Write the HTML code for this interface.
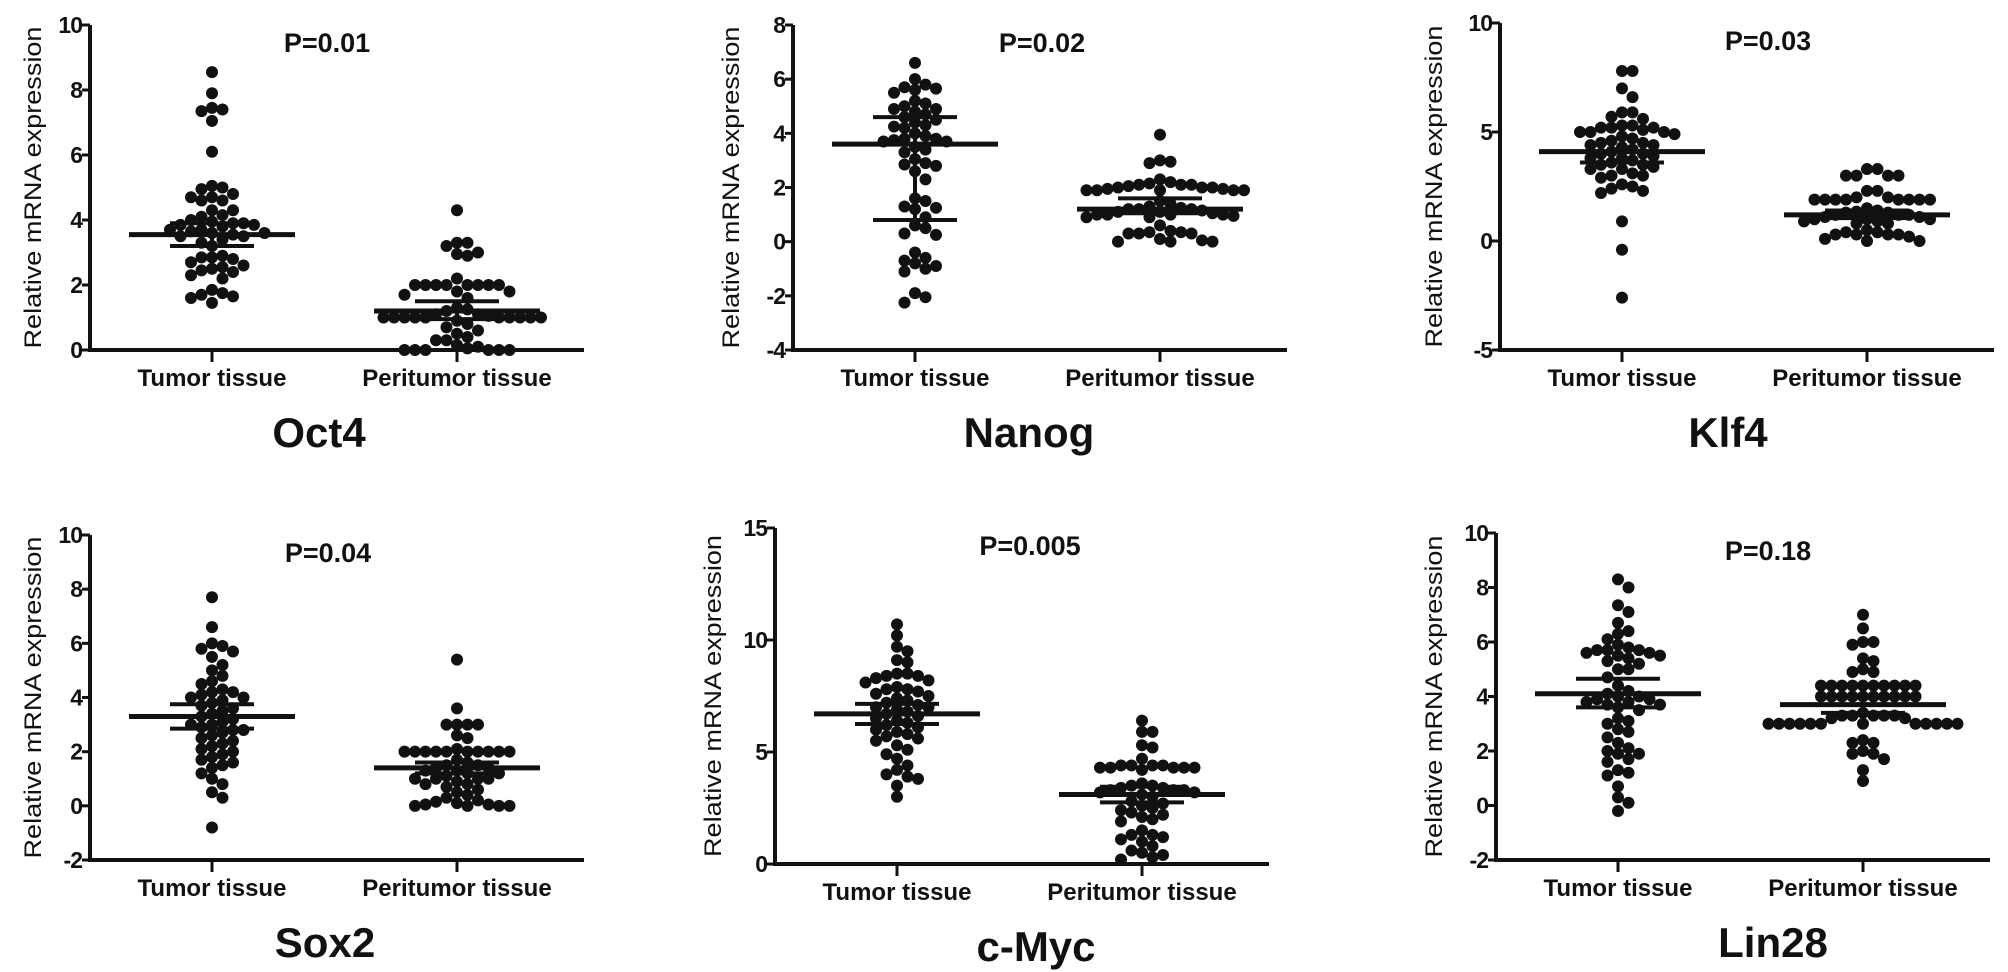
<!DOCTYPE html>
<html><head><meta charset="utf-8"><style>
html,body{margin:0;padding:0;background:#fff}
svg{display:block}
text{font-family:"Liberation Sans",sans-serif;fill:#111}
</style></head><body>
<svg id="fig" width="2008" height="972" viewBox="0 0 2008 972" xmlns="http://www.w3.org/2000/svg"></svg>
<script>
// ---- data ----
const categories = ["Tumor tissue","Peritumor tissue"];
const geneNames = ["Oct4","Nanog","Klf4","Sox2","c-Myc","Lin28"];
const pValues = ["P=0.01","P=0.02","P=0.03","P=0.04","P=0.005","P=0.18"];
const yTicksOct4 = [0,2,4,6,8,10];
const yTicksNanog = [-4,-2,0,2,4,6,8];
const yTicksKlf4 = [-5,0,5,10];
const yTicksSox2 = [-2,0,2,4,6,8,10];
const yTicksMyc = [0,5,10,15];
const yTicksLin28 = [-2,0,2,4,6,8,10];

const oct4Tumor = [8.55,7.9,7.45,7.35,7.4,7.05,6.1,5.05,5.0,4.95,4.8,4.7,4.7,4.6,4.6,4.3,4.3,4.15,4.1,4.0,3.95,3.9,3.9,3.85,3.85,3.8,3.7,3.7,3.65,3.6,3.6,3.55,3.5,3.5,3.4,3.3,3.2,2.9,2.85,2.85,2.8,2.7,2.6,2.55,2.5,2.45,2.4,2.3,2.2,1.85,1.75,1.7,1.65,1.6,1.45];
const oct4Peri = [4.3,3.3,3.3,3.2,3.0,2.95,2.9,2.2,2.0,2.0,2.0,2.0,2.0,2.0,2.0,2.0,1.8,1.8,1.7,1.6,1.3,1.25,1.2,1.1,1.1,1.05,1.0,1.0,1.0,1.0,1.0,1.0,1.0,1.0,1.0,1.0,0.9,0.8,0.7,0.6,0.5,0.4,0.3,0.3,0.15,0.1,0.05,0.0,0.0,0.0,0.0,0.0,0.0];
const nanogTumor = [6.6,6.0,5.8,5.7,5.65,5.6,5.5,5.2,5.1,5.0,4.9,4.9,4.8,4.7,4.6,4.5,4.4,4.3,4.25,4.2,4.0,3.9,3.8,3.8,3.75,3.7,3.7,3.5,3.4,3.3,3.05,2.9,2.85,2.8,2.6,2.3,1.6,1.5,1.3,1.25,1.2,0.9,0.6,0.5,0.3,0.25,-0.4,-0.6,-0.7,-0.8,-0.9,-1.0,-1.1,-1.9,-2.05,-2.25];
const nanogPeri = [3.95,3.0,2.95,2.9,2.3,2.2,2.15,2.1,2.1,2.05,2.0,2.0,1.95,1.9,1.9,1.9,1.9,1.9,1.95,2.0,2.1,1.5,1.4,1.3,1.25,1.2,1.2,1.2,1.15,1.1,1.1,1.05,1.0,1.0,1.0,1.0,0.95,0.9,0.9,0.6,0.4,0.35,0.3,0.3,0.3,0.35,0.05,0.0,0.0,0.0,0.1];
const klf4Tumor = [7.8,7.8,7.0,6.6,5.9,5.9,5.7,5.6,5.3,5.3,5.2,5.2,5.2,5.1,5.0,5.0,5.0,4.9,4.8,4.7,4.6,4.5,4.5,4.4,4.4,4.3,4.2,4.1,4.0,4.0,3.9,3.8,3.8,3.7,3.6,3.5,3.5,3.4,3.3,3.3,3.1,3.0,3.0,2.9,2.6,2.5,2.4,2.3,2.2,0.9,-0.4,-2.6];
const klf4Peri = [3.3,3.3,3.0,3.0,3.0,3.0,2.3,2.3,2.0,1.9,1.9,1.9,1.9,1.9,1.9,1.9,1.9,2.0,1.5,1.4,1.35,1.3,1.3,1.2,1.2,1.2,1.1,1.1,1.0,1.0,1.0,0.9,0.9,0.8,0.8,0.5,0.4,0.4,0.3,0.3,0.3,0.3,0.2,0.1,0.0,0.0];
const sox2Tumor = [7.7,6.6,6.0,5.9,5.8,5.7,5.5,5.2,5.0,4.8,4.6,4.5,4.3,4.2,4.2,4.1,4.0,4.0,3.9,3.8,3.7,3.6,3.5,3.4,3.3,3.2,3.1,3.0,3.0,2.9,2.8,2.8,2.7,2.6,2.5,2.4,2.3,2.2,2.1,2.0,1.9,1.8,1.7,1.6,1.5,1.4,1.2,1.0,0.8,0.5,0.3,-0.8];
const sox2Peri = [5.4,3.6,3.0,3.0,3.0,3.0,2.6,2.5,2.1,2.0,2.0,2.0,2.0,2.0,2.0,2.0,2.0,2.0,2.0,1.7,1.6,1.5,1.5,1.4,1.4,1.3,1.3,1.2,1.2,1.1,1.0,1.0,1.0,1.0,0.9,0.8,0.8,0.7,0.6,0.5,0.4,0.3,0.15,0.05,0.0,0.0,0.0,0.0,0.05,0.1,0.2];
const mycTumor = [10.7,10.2,9.7,9.5,9.1,9.0,8.5,8.5,8.4,8.4,8.3,8.2,8.1,7.9,7.8,7.8,7.7,7.6,7.5,7.4,7.3,7.2,7.1,7.0,7.0,6.9,6.8,6.7,6.6,6.5,6.4,6.3,6.2,6.1,6.0,5.9,5.8,5.7,5.6,5.5,5.3,5.1,4.9,4.7,4.4,4.2,4.0,3.9,3.8,3.5,3.0];
const mycPeri = [6.4,5.9,5.9,5.3,5.2,4.7,4.4,4.4,4.4,4.3,4.3,4.3,4.3,4.2,4.3,4.4,3.6,3.5,3.5,3.4,3.4,3.3,3.3,3.3,3.2,3.2,3.1,3.0,2.8,2.7,2.6,2.5,2.4,2.3,2.2,2.1,2.0,1.9,1.5,1.3,1.3,1.2,1.1,1.0,0.8,0.6,0.5,0.4,0.3,0.2];
const lin28Tumor = [8.3,8.0,7.35,7.1,6.7,6.4,6.3,6.1,5.9,5.8,5.7,5.7,5.7,5.6,5.6,5.5,5.5,5.4,5.3,5.2,5.0,5.0,4.7,4.4,4.2,4.1,4.0,4.0,3.9,3.9,3.8,3.8,3.7,3.7,3.6,3.5,3.2,3.1,3.0,2.8,2.7,2.5,2.3,2.1,2.0,1.9,1.9,1.7,1.6,1.3,1.2,1.1,0.7,0.3,0.1,-0.2];
const lin28Peri = [7.0,6.5,6.0,6.0,5.9,5.4,5.3,5.0,4.9,4.9,4.4,4.4,4.4,4.4,4.4,4.4,4.4,4.4,4.4,4.4,4.0,4.0,4.0,4.0,4.0,4.0,4.0,4.0,4.0,4.0,3.4,3.3,3.3,3.3,3.2,3.2,3.3,3.3,3.0,3.0,3.0,3.0,3.0,3.0,3.0,3.0,3.0,3.0,3.0,3.0,2.4,2.3,2.3,2.0,1.9,1.9,1.7,1.3,0.9];

// mean, lower bar, upper bar per group
const tumorMeans = [3.55,3.6,4.1,3.3,6.7,4.1];
const tumorLow = [3.2,0.8,3.6,2.85,6.25,3.6];
const tumorHigh = [3.9,4.6,4.1,3.75,7.15,4.65];
const periMeans = [1.2,1.2,1.2,1.4,3.1,3.7];
const periLow = [0.95,1.05,1.05,1.2,2.75,3.4];
const periHigh = [1.5,1.6,1.4,1.6,3.45,3.7];

// ---- layout ----
const NS="http://www.w3.org/2000/svg";
const svg=document.getElementById('fig');
function mk(tag,attrs,parent){const e=document.createElementNS(NS,tag);for(const k in attrs)e.setAttribute(k,attrs[k]);(parent||svg).appendChild(e);return e;}

const panels=[
 {ax:90,top:25,bot:350,ticks:yTicksOct4,t:oct4Tumor,p:oct4Peri,px:237,tx:229,yl:57},
 {ax:793,top:25,bot:350,ticks:yTicksNanog,t:nanogTumor,p:nanogPeri,px:249,tx:236,yl:62},
 {ax:1500,top:23,bot:350,ticks:yTicksKlf4,t:klf4Tumor,p:klf4Peri,px:268,tx:228,yl:66},
 {ax:90,top:535,bot:860,ticks:yTicksSox2,t:sox2Tumor,p:sox2Peri,px:238,tx:235,yl:57},
 {ax:775,top:528,bot:864,ticks:yTicksMyc,t:mycTumor,p:mycPeri,px:255,tx:261,yl:62},
 {ax:1496,top:533,bot:860,ticks:yTicksLin28,t:lin28Tumor,p:lin28Peri,px:272,tx:277,yl:62}
];

function swarm(g,values,cx,ys,name){
  const placed=[];const r=6,d=10.5;
  const sorted=values.slice().sort((a,b)=>b-a);
  sorted.forEach(v=>{
    const y=ys(v);let k=0,x=cx;
    for(k=0;k<40;k++){
      const off=(k===0)?0:Math.ceil(k/2)*d*(k%2?1:-1);
      x=cx+off;
      if(!placed.some(p=>Math.hypot(p[0]-x,p[1]-y)<d*0.95))break;
    }
    placed.push([x,y]);
    const c=mk('circle',{cx:x,cy:y,r:r,fill:'#111'},g);
    
    
  });
}

panels.forEach((P,i)=>{
  const g=mk('g',{});
  
  
  const mn=P.ticks[0],mx=P.ticks[P.ticks.length-1];
  const ys=v=>P.bot-(v-mn)/(mx-mn)*(P.bot-P.top);
  const xT=P.ax+122,xP=P.ax+367,xEnd=P.ax+494;
  const ya=mk('line',{x1:P.ax,y1:P.top,x2:P.ax,y2:P.bot+2,stroke:'#111','stroke-width':4},g);
  
  const xa=mk('line',{x1:P.ax-2,y1:P.bot,x2:xEnd,y2:P.bot,stroke:'#111','stroke-width':4},g);
  
  P.ticks.forEach(t=>{
    const y=ys(t);
    mk('line',{x1:P.ax-8,y1:y,x2:P.ax,y2:y,stroke:'#111','stroke-width':3},g);
    const tl=mk('text',{x:P.ax-8,y:y+8,'text-anchor':'end','font-size':23,'font-weight':'bold','letter-spacing':-1},g);
    tl.textContent=t;
    
  });
  [xT,xP].forEach((x,j)=>{
    mk('line',{x1:x,y1:P.bot,x2:x,y2:P.bot+12,stroke:'#111','stroke-width':3},g);
    const xl=mk('text',{x:x,y:P.bot+36,'text-anchor':'middle','font-size':24,'font-weight':'bold'},g);
    xl.textContent=categories[j];
    
  });
  const cy=(P.top+P.bot)/2;
  const yt=mk('text',{x:P.ax-P.yl,y:cy,'text-anchor':'middle','font-size':24,transform:`rotate(-90 ${P.ax-P.yl} ${cy})`,dy:8,textLength:322,lengthAdjust:'spacingAndGlyphs'},g);
  yt.textContent='Relative mRNA expression';
  
  const pv=mk('text',{x:P.ax+P.px,y:P.top+27,'text-anchor':'middle','font-size':27,'font-weight':'bold'},g);
  pv.textContent=pValues[i];
  
  const gt=mk('text',{x:P.ax+P.tx,y:P.bot+97,'text-anchor':'middle','font-size':42,'font-weight':'bold'},g);
  gt.textContent=geneNames[i];
  
  swarm(g,P.t,xT,ys,'tumor');
  swarm(g,P.p,xP,ys,'peritumor');
  [[xT,tumorMeans[i],tumorLow[i],tumorHigh[i]],[xP,periMeans[i],periLow[i],periHigh[i]]].forEach((m,j)=>{
    const x=m[0];
    const ml=mk('line',{x1:x-83,y1:ys(m[1]),x2:x+83,y2:ys(m[1]),stroke:'#111','stroke-width':5},g);
    
    mk('line',{x1:x,y1:ys(m[2]),x2:x,y2:ys(m[3]),stroke:'#111','stroke-width':4},g);
    [m[2],m[3]].forEach(v=>{
      const el=mk('line',{x1:x-42,y1:ys(v),x2:x+42,y2:ys(v),stroke:'#111','stroke-width':4},g);
      
    });
  });
});
</script>
</body></html>
